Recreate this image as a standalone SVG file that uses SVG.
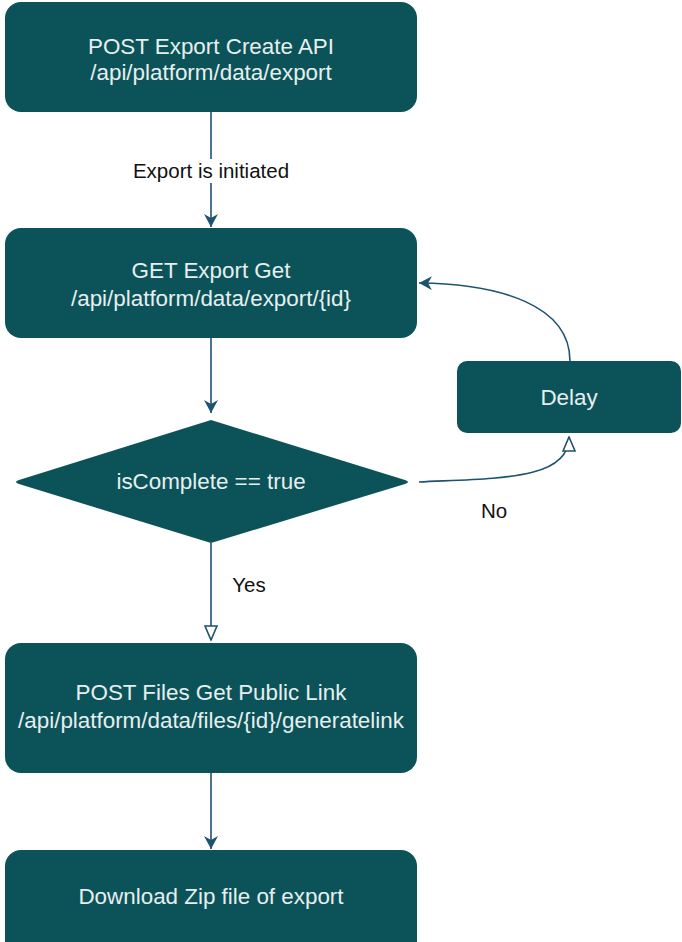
<svg xmlns="http://www.w3.org/2000/svg" width="682" height="942" viewBox="0 0 682 942">
<style>
.node{fill:#0c5359;}
.nt{fill:#e6efef;font-family:"Liberation Sans",Arial,sans-serif;font-size:22.4px;text-anchor:middle;dominant-baseline:central;}
.lbl{fill:#111;font-family:"Liberation Sans",Arial,sans-serif;font-size:20.5px;text-anchor:middle;dominant-baseline:central;}
.edge{fill:none;stroke:#1d5270;stroke-width:1.6;}
</style>
<defs>
<marker id="filled" viewBox="0 0 14 14" refX="13" refY="7" markerWidth="14" markerHeight="14" markerUnits="userSpaceOnUse" orient="auto">
<path d="M0,0 L13,7 L0,14 L4,7 Z" fill="#1d5270"/>
</marker>
<marker id="hollow" viewBox="0 0 16 14" refX="15" refY="7" markerWidth="16" markerHeight="14" markerUnits="userSpaceOnUse" orient="auto">
<path d="M1,1 L15,7 L1,13 Z" fill="#fff" stroke="#1d5270" stroke-width="1.6"/>
</marker>
</defs>
<rect width="682" height="942" fill="#fff"/>
<g id="connectors">
<path class="edge" d="M211,112 V159" />
<path class="edge" d="M211,183 V227" marker-end="url(#filled)"/>
<text class="lbl" x="211" y="170">Export is initiated</text>
<path class="edge" d="M211,338 V413" marker-end="url(#filled)"/>
<path class="edge" d="M211,543 V640" marker-end="url(#hollow)"/>
<text class="lbl" x="249" y="584">Yes</text>
<path class="edge" d="M419,482 C500,478 569,480 569,437" marker-end="url(#hollow)"/>
<text class="lbl" x="494" y="510">No</text>
<path class="edge" d="M570,361 C570,305 500,284 419,283" marker-end="url(#filled)"/>
<path class="edge" d="M211,773 V849" marker-end="url(#filled)"/>
</g>
<g id="node-create">
<rect class="node" x="5" y="2" width="412" height="110" rx="16"/>
<text class="nt" x="211" y="46">POST Export Create API</text>
<text class="nt" x="211" y="72">/api/platform/data/export</text>
</g>
<g id="node-get">
<rect class="node" x="5" y="228" width="412" height="110" rx="16"/>
<text class="nt" x="211" y="270">GET Export Get</text>
<text class="nt" x="211" y="298">/api/platform/data/export/{id}</text>
</g>
<g id="node-decision">
<path class="node" d="M211,420 L405,480 Q411,482 405,484 L211,543 L19,484 Q13,482 19,480 Z"/>
<text class="nt" x="211" y="481">isComplete == true</text>
</g>
<g id="node-delay">
<rect class="node" x="457" y="361" width="224" height="72" rx="10"/>
<text class="nt" x="569" y="397">Delay</text>
</g>
<g id="node-link">
<rect class="node" x="5" y="643" width="412" height="130" rx="16"/>
<text class="nt" x="211" y="692">POST Files Get Public Link</text>
<text class="nt" x="211" y="720">/api/platform/data/files/{id}/generatelink</text>
</g>
<g id="node-download">
<rect class="node" x="5" y="850" width="412" height="110" rx="16"/>
<text class="nt" x="211" y="896">Download Zip file of export</text>
</g>
</svg>
